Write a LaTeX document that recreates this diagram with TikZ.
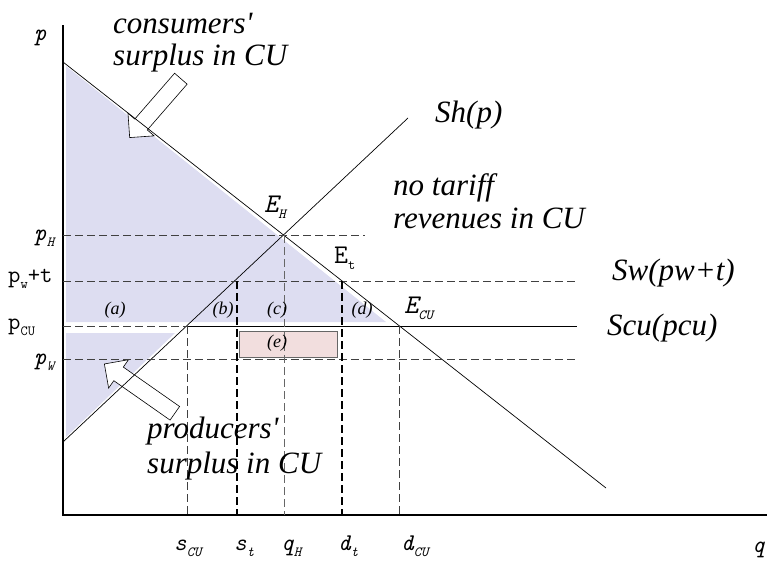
\documentclass[tikz,border=0pt]{standalone}
\usepackage{fontspec}
\setmainfont{Liberation Serif}
\usetikzlibrary{shapes.arrows}
\definecolor{surplus}{RGB}{221,221,241}
\definecolor{revenue}{RGB}{242,222,222}
\newcommand{\lowsub}[1]{\raisebox{-6pt}{\fontsize{14}{14}\selectfont #1}}

\begin{document}
\begin{tikzpicture}[
    x=1pt, y=-1pt,
    axis/.style={line width=1.6pt},
    curve/.style={line width=0.7pt},
    guide/.style={dash pattern=on 8pt off 4pt, line width=0.9pt, black!75},
    guidebold/.style={guide, black, line width=1.3pt},
    blockarrow/.style={single arrow, draw, fill=white, line width=0.6pt,
      inner sep=8pt, single arrow head extend=9pt},
    note/.style={font=\fontsize{31}{33}\selectfont\itshape, inner sep=0pt, anchor=base west},
    mono/.style={font=\fontsize{24}{24}\selectfont\ttfamily, inner sep=0pt, anchor=base west},
    monoit/.style={mono, font=\fontsize{24}{24}\selectfont\ttfamily\itshape},
    area/.style={font=\fontsize{18}{20}\selectfont\itshape, inner sep=0pt}
  ]
  \useasboundingbox (0,0) rectangle (767,562);

  % shaded surplus areas
  \fill[surplus] (66,66) -- (386,322) -- (66,322) -- cycle;
  \fill[surplus] (66,333) -- (175,333) -- (66,437) -- cycle;

  % block arrows
  \node[blockarrow, minimum height=78pt, rotate=229] (carrow) at (158,105) {};
  \node[blockarrow, minimum height=86pt, rotate=145] (parrow) at (143,391) {};

  % axes
  \coordinate (O) at (63,515);
  \coordinate (ptop) at (63,25);
  \coordinate (qend) at (767,515);
  \draw[axis] (ptop) -- (O) -- (qend);
  \node[monoit] (plab) at (34,40) {p};
  \node[monoit] (qlab) at (752,552) {q};

  % demand and supply
  \coordinate (D0) at (63,62);
  \coordinate (D1) at (606,488);
  \coordinate (S0) at (63,442);
  \coordinate (S1) at (408,118);
  \draw[curve] (D0) -- (D1);
  \draw[curve] (S0) -- (S1);

  % price lines
  \coordinate (EH) at (284,235);
  \coordinate (Et) at (342,281);
  \coordinate (Ecu) at (399,326);
  \draw[guide] (63,235) -- (365,235);
  \draw[guide] (63,281) -- (577,281);
  \draw[guide] (63,359) -- (577,359);
  \draw[guide] (63,326) -- (187,326);
  \draw[curve, line width=0.9pt] (187,326) -- (577,326);

  % revenue box
  \node[draw=black!60, fill=revenue, line width=0.8pt, minimum width=98pt,
    minimum height=26pt, inner sep=0pt] (ebox) at (288,344) {};

  % quantity lines
  \foreach \x/\y in {187/326, 399/326}
    \draw[guide] (\x,\y) -- (\x,515);
  \draw[guide, black!60] (EH) -- (284,515);
  \foreach \x/\y in {237/281, 342/281}
    \draw[guidebold] (\x,\y) -- (\x,515);

  % area labels
  \node[area] (la) at (115,310) {(a)};
  \node[area] (lb) at (223,310) {(b)};
  \node[area] (lc) at (277,310) {(c)};
  \node[area] (ld) at (362,310) {(d)};
  \node[area] (le) at (277,343) {(e)};

  % equilibrium labels
  \node[monoit, font=\fontsize{27}{27}\selectfont\ttfamily\itshape] (lEH) at (264,212) {E\lowsub{H}};
  \node[mono, font=\fontsize{27}{27}\selectfont\ttfamily] (lEt) at (334,263) {E\lowsub{t}};
  \node[monoit, font=\fontsize{27}{27}\selectfont\ttfamily\itshape] (lEcu) at (404,313) {E\lowsub{CU}};

  % price labels
  \node[monoit] (lpH) at (34,240) {p\lowsub{H}};
  \node[mono] (lpwt) at (8,282) {p\lowsub{w}+t};
  \node[mono] (lpcu) at (8,329) {p\lowsub{CU}};
  \node[monoit] (lpW) at (34,364) {p\lowsub{W}};

  % quantity labels
  \foreach \x/\main/\sub/\nm in {174/s/CU/lscu, 234/s/t/lst, 281/q/H/lqh, 338/d/t/ldt, 401/d/CU/ldcu}
    \node[monoit] (\nm) at (\x,550) {\main\lowsub{\sub}};

  % curve names
  \node[note] (lSh) at (435,122) {Sh(p)};
  \node[note] (lSw) at (612,280) {Sw(pw+t)};
  \node[note] (lScu) at (607,335) {Scu(pcu)};

  % notes
  \node[note] (cs1) at (113,33) {consumers\textquotesingle};
  \node[note] (cs2) at (113,65) {surplus in CU};
  \node[note] (nt1) at (393,195) {no tariff};
  \node[note] (nt2) at (393,228) {revenues in CU};
  \node[note] (ps1) at (147,438) {producers\textquotesingle};
  \node[note] (ps2) at (147,473) {surplus in CU};
\end{tikzpicture}
\end{document}
